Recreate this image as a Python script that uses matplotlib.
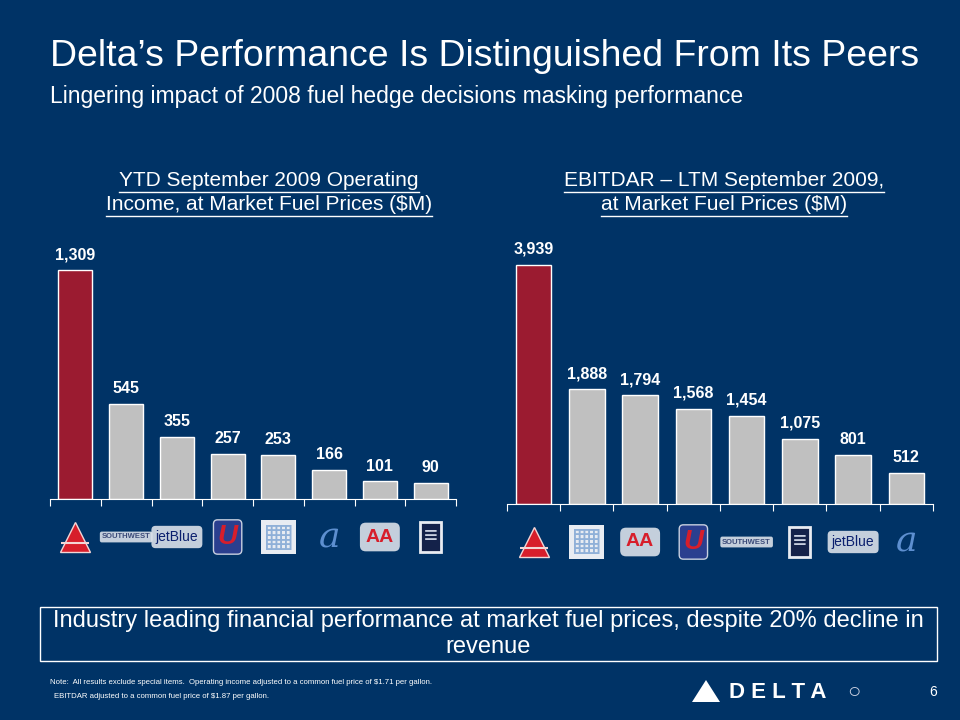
import matplotlib
matplotlib.use("Agg")
import matplotlib.pyplot as plt
from matplotlib.patches import Rectangle, Polygon
from matplotlib.lines import Line2D
from matplotlib.transforms import offset_copy

plt.rcParams.update({"font.family": ["Liberation Sans", "DejaVu Sans"]})
BG, RED, GRAY, WHITE = "#003366", "#9b1b30", "#c0c0c0", "white"
W, H = 960, 720

# ---- data ----
left_airlines = ["Delta", "Southwest", "JetBlue", "United", "Continental", "AirTran", "American", "US Airways"]
left_values = [1309, 545, 355, 257, 253, 166, 101, 90]
right_airlines = ["Delta", "Continental", "American", "United", "Southwest", "US Airways", "JetBlue", "AirTran"]
right_values = [3939, 1888, 1794, 1568, 1454, 1075, 801, 512]
left_title = "YTD September 2009 Operating\nIncome, at Market Fuel Prices ($M)"
right_title = "EBITDAR \u2013 LTM September 2009,\nat Market Fuel Prices ($M)"

fig = plt.figure(figsize=(W / 100, H / 100), dpi=100)
fig.patch.set_facecolor(BG)

def px(x0, y0, x1, y1):
    # pixel box (top-left origin) -> figure fraction rect
    return [x0 / W, 1 - y1 / H, (x1 - x0) / W, (y1 - y0) / H]

def logo(ax, i, name):
    # simplified airline marks, 38 px under the axis line
    kw = dict(xycoords=ax.get_xaxis_transform(), textcoords="offset pixels",
              xytext=(0, -38), ha="center", va="center", annotation_clip=False)
    pale = dict(boxstyle="round,pad=0.3", fc="#e8ecf2", ec="none", alpha=0.85)
    if name == "Delta":
        tr = offset_copy(ax.get_xaxis_transform(), fig=fig, x=0, y=-38, units="dots")
        ax.plot(i, 0, marker="^", ms=22, color="#d71e2b", mec="#f3d6d6", mew=1,
                transform=tr, clip_on=False)
        ax.plot(i, 0, marker="_", ms=20, color="#f3d6d6", mew=1.5,
                transform=offset_copy(tr, fig=fig, y=-6, units="dots"), clip_on=False)
    elif name == "Southwest":
        ax.annotate("SOUTHWEST", (i, 0), fontsize=5.5, fontweight="bold", color="#3a4a78",
                    bbox=dict(boxstyle="round,pad=0.25", fc="#e8ecf2", ec="none", alpha=0.85), **kw)
    elif name == "JetBlue":
        ax.annotate("jetBlue", (i, 0), fontsize=10, color="#0a1f6e", bbox=pale, **kw)
    elif name == "United":
        ax.annotate("U", (i, 0), fontsize=20, fontweight="bold", fontstyle="italic", color="#d71e2b",
                    bbox=dict(boxstyle="round,pad=0.15", fc="#2a3f8f", ec="#c8d0e0", lw=1), **kw)
    elif name == "Continental":
        ax.annotate("\u25a6", (i, 0), fontsize=24, color="#8fb0d8",
                    bbox=dict(boxstyle="square,pad=0.05", fc="#e8ecf2", ec="none"), **kw)
    elif name == "AirTran":
        ax.annotate("a", (i, 0), fontsize=26, fontstyle="italic", family="DejaVu Serif", color="#5d8fd0", **kw)
    elif name == "American":
        ax.annotate("AA", (i, 0), fontsize=14, fontweight="bold", color="#d71e2b", bbox=pale, **kw)
    elif name == "US Airways":
        ax.annotate("\u2261", (i, 0), fontsize=17, color="#c8cfe0",
                    bbox=dict(boxstyle="square,pad=0.15", fc="#14224a", ec="#e8ecf2", lw=2), **kw)

def bar_chart(rect, names, vals, ytop):
    ax = fig.add_axes(rect)
    ax.set_facecolor("none")
    x = list(range(len(vals)))
    cols = [RED] + [GRAY] * (len(vals) - 1)
    ax.bar(x, vals, width=0.67, color=cols, edgecolor=WHITE, linewidth=1)
    for xi, v in zip(x, vals):
        ax.text(xi, v + ytop * 0.03, f"{v:,}", ha="center", va="bottom", color=WHITE,
                fontsize=11.5, fontweight="bold")
    ax.set_xlim(-0.5, len(vals) - 0.5)
    ax.set_ylim(0, ytop)
    for s in ["top", "right", "left"]:
        ax.spines[s].set_visible(False)
    ax.spines["bottom"].set_color(WHITE)
    ax.set_yticks([])
    ax.set_xticks([i - 0.5 for i in range(len(vals) + 1)])
    ax.set_xticklabels([])
    ax.tick_params(axis="x", colors=WHITE, length=5, direction="out")
    for i, n in enumerate(names):
        logo(ax, i, n)
    return ax

bar_chart(px(50, 240, 456, 499), left_airlines, left_values, 1480)
bar_chart(px(507, 235, 933, 504), right_airlines, right_values, 4433)

# ---- text ----
fig.text(50 / W, 1 - 56 / H, "Delta\u2019s Performance Is Distinguished From Its Peers",
         color=WHITE, fontsize=26.9, va="center", ha="left")
fig.text(50 / W, 1 - 96 / H, "Lingering impact of 2008 fuel hedge decisions masking performance",
         color=WHITE, fontsize=16.5, va="center", ha="left")

def underlined(xc, ylines, lines):
    for yy, line in zip(ylines, lines.split("\n")):
        t = fig.text(xc / W, 1 - yy / H, line, color=WHITE, fontsize=15, ha="center", va="center")
        fig.canvas.draw()
        bb = t.get_window_extent()
        yl = bb.y0 - 1
        fig.add_artist(Line2D([bb.x0 / W, bb.x1 / W], [yl / H, yl / H], color=WHITE, lw=1))

underlined(269, [181, 205], left_title)
underlined(724, [181, 205], right_title)

fig.add_artist(Rectangle((40 / W, 1 - 661 / H), 897 / W, 54 / H, transform=fig.transFigure,
                         fill=False, ec=WHITE, lw=1))
fig.text(488 / W, 1 - 621 / H, "Industry leading financial performance at market fuel prices, despite 20% decline in",
         color=WHITE, fontsize=17, ha="center", va="center")
fig.text(488 / W, 1 - 647 / H, "revenue", color=WHITE, fontsize=17, ha="center", va="center")

fig.text(50 / W, 1 - 682 / H, "Note:  All results exclude special items.  Operating income adjusted to a common fuel price of $1.71 per gallon.",
         color=WHITE, fontsize=5.6, va="center")
fig.text(54 / W, 1 - 697 / H, "EBITDAR adjusted to a common fuel price of $1.87 per gallon.",
         color=WHITE, fontsize=5.6, va="center")

# Delta wordmark
tri = [(692 / W, 1 - 702 / H), (720 / W, 1 - 702 / H), (706 / W, 1 - 680 / H)]
fig.add_artist(Polygon(tri, closed=True, transform=fig.transFigure, fc=WHITE, ec="none"))
fig.text(778 / W, 1 - 692 / H, "D E L T A", color=WHITE, fontsize=16, fontweight="bold", ha="center", va="center")
fig.text(854 / W, 1 - 692 / H, "\u25cb", color="#c8cfe0", fontsize=16, ha="center", va="center")
fig.text(933 / W, 1 - 692 / H, "6", color=WHITE, fontsize=10, ha="center", va="center")

fig.savefig("out.png", dpi=100, facecolor=BG)
